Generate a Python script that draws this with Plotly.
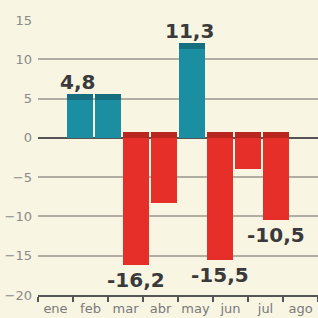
import plotly.graph_objects as go

months = ["ene", "feb", "mar", "abr", "may", "jun", "jul", "ago"]
bar_values = [4.8, 4.8, -16.2, -8.3, 11.3, -15.5, -3.9, -10.5]
label_index = [0, 2, 4, 5, 7]
label_text = ["4,8", "-16,2", "11,3", "-15,5", "-10,5"]
y_ticks = [-20, -15, -10, -5, 0, 5, 10, 15]

pos_color, pos_cap = "#1b8ea2", "#156f7e"
neg_color, neg_cap = "#e62f28", "#b9261f"
cap_h = 0.8

xs = list(range(len(bar_values)))
colors = [pos_color if v >= 0 else neg_color for v in bar_values]
cap_colors = [pos_cap if v >= 0 else neg_cap for v in bar_values]
cap_base = [max(v, 0) for v in bar_values]

fig = go.Figure()
fig.add_trace(go.Bar(x=xs, y=bar_values, marker=dict(color=colors, line=dict(width=0)),
                     width=0.9, xaxis="x", yaxis="y", showlegend=False))
fig.add_trace(go.Bar(x=xs, y=[cap_h] * len(xs), base=cap_base,
                     marker=dict(color=cap_colors, line=dict(width=0)),
                     width=0.9, xaxis="x", yaxis="y", showlegend=False))
# invisible trace to establish month category axis
fig.add_trace(go.Scatter(x=months, y=[None] * len(months), xaxis="x2", yaxis="y",
                         mode="markers", showlegend=False, hoverinfo="skip"))

for i, t in zip(label_index, label_text):
    v = bar_values[i]
    if v >= 0:
        fig.add_annotation(x=i, y=v + cap_h, text=t, showarrow=False, xref="x", yref="y",
                           yanchor="bottom", yshift=-2, xshift=-3,
                           font=dict(family="DejaVu Sans", size=20, color="#3a3a3a", weight="bold"))
    else:
        fig.add_annotation(x=i, y=v, text=t, showarrow=False, xref="x", yref="y",
                           yanchor="top", yshift=-1,
                           font=dict(family="DejaVu Sans", size=20, color="#3a3a3a", weight="bold"))

fig.update_layout(
    width=318, height=318,
    margin=dict(l=38, r=0, t=20, b=23),
    paper_bgcolor="#f8f5e3", plot_bgcolor="#f8f5e3",
    barmode="overlay", bargap=0,
    font=dict(family="DejaVu Sans", color="#8a8a8a", size=13),
    xaxis=dict(range=[-1.5, 8.5], showgrid=False, showticklabels=False, zeroline=False,
               fixedrange=True, automargin=False),
    xaxis2=dict(type="category", overlaying="x", side="bottom", range=[-0.5, 7.5],
                showgrid=False, ticks="outside", tickson="boundaries", ticklen=5,
                tickwidth=2, tickcolor="#555", showline=True, linecolor="#555", linewidth=2,
                tickangle=0, automargin=False,
                tickfont=dict(size=13, color="#7a7a7a"), zeroline=False),
    yaxis=dict(range=[-20, 15], tickvals=y_ticks, showgrid=True, gridcolor="#b0aea2",
               gridwidth=2, zeroline=True, zerolinecolor="#555", zerolinewidth=2,
               automargin=False,
               tickfont=dict(size=13, color="#8a8a8a"), ticks="", ticklabelstandoff=5),
)

fig.write_html("out.html", config={"displayModeBar": False})

with open("out.html", "r", encoding="utf-8") as f:
    html = f.read()
html = html.replace("<head>", "<head><style>html,body{margin:0;padding:0;overflow:hidden;background:#f8f5e3;}</style>", 1)
with open("out.html", "w", encoding="utf-8") as f:
    f.write(html)
